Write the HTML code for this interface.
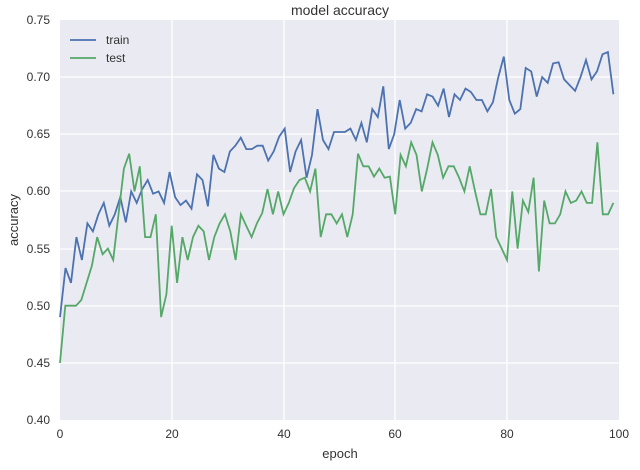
<!DOCTYPE html>
<html><head><meta charset="utf-8"><style>
body{margin:0;background:#fff;font-family:"Liberation Sans",sans-serif;}
</style></head><body>
<svg id="s" width="640" height="465" xmlns="http://www.w3.org/2000/svg" font-family="Liberation Sans, sans-serif">
<rect x="60" y="20" width="559" height="400" fill="#eaeaf2"/>
<g stroke="#fff" stroke-width="1.3">
<line x1="60" x2="619" y1="77" y2="77"/><line x1="60" x2="619" y1="134" y2="134"/>
<line x1="60" x2="619" y1="191" y2="191"/><line x1="60" x2="619" y1="249" y2="249"/>
<line x1="60" x2="619" y1="306" y2="306"/><line x1="60" x2="619" y1="363" y2="363"/>
<line y1="20" y2="420" x1="172" x2="172"/><line y1="20" y2="420" x1="284" x2="284"/>
<line y1="20" y2="420" x1="395" x2="395"/><line y1="20" y2="420" x1="507" x2="507"/>
</g>
<g font-size="12" fill="#333" text-anchor="end">
<text x="50" y="24">0.75</text><text x="50" y="81">0.70</text><text x="50" y="138">0.65</text>
<text x="50" y="195">0.60</text><text x="50" y="253">0.55</text><text x="50" y="310">0.50</text>
<text x="50" y="367">0.45</text><text x="50" y="424">0.40</text>
</g>
<g font-size="12" fill="#333" text-anchor="middle">
<text x="60" y="438">0</text><text x="172" y="438">20</text><text x="284" y="438">40</text>
<text x="395" y="438">60</text><text x="507" y="438">80</text><text x="619" y="438">100</text>
<text x="340" y="458" font-size="13">epoch</text>
<text x="340" y="15" font-size="14">model accuracy</text>
</g>
<text transform="translate(18,220) rotate(-90)" font-size="13" fill="#333" text-anchor="middle">accuracy</text>
<polyline id="tr" fill="none" stroke="#4c72b0" stroke-width="1.8"/>
<polyline id="te" fill="none" stroke="#55a868" stroke-width="1.8"/>
<line x1="70" x2="96" y1="40" y2="40" stroke="#4c72b0" stroke-width="1.8"/>
<line x1="70" x2="96" y1="58" y2="58" stroke="#55a868" stroke-width="1.8"/>
<text x="106" y="44" font-size="12" fill="#333">train</text>
<text x="106" y="62" font-size="12" fill="#333">test</text>
</svg>
<script>
var tr=[0.49,0.533,0.52,0.56,0.54,0.572,0.565,0.58,0.59,0.57,0.58,0.595,0.573,0.60,0.59,0.602,0.61,0.598,0.60,0.59,0.617,0.595,0.588,0.592,0.585,0.615,0.61,0.587,0.632,0.62,0.617,0.635,0.64,0.647,0.637,0.637,0.64,0.64,0.627,0.635,0.648,0.655,0.617,0.635,0.645,0.612,0.632,0.672,0.645,0.637,0.652,0.652,0.652,0.655,0.645,0.66,0.643,0.672,0.665,0.692,0.637,0.65,0.68,0.655,0.66,0.672,0.67,0.685,0.683,0.675,0.69,0.665,0.685,0.68,0.69,0.687,0.68,0.68,0.67,0.678,0.70,0.718,0.68,0.668,0.672,0.708,0.705,0.683,0.70,0.695,0.712,0.713,0.698,0.693,0.688,0.70,0.715,0.698,0.705,0.72,0.722,0.685];
var te=[0.45,0.50,0.50,0.50,0.505,0.52,0.535,0.56,0.545,0.55,0.54,0.58,0.62,0.633,0.60,0.622,0.56,0.56,0.58,0.49,0.51,0.57,0.52,0.56,0.54,0.56,0.57,0.565,0.54,0.56,0.572,0.58,0.565,0.54,0.58,0.57,0.56,0.572,0.581,0.602,0.58,0.60,0.58,0.59,0.603,0.61,0.612,0.60,0.62,0.56,0.58,0.58,0.572,0.58,0.56,0.58,0.633,0.622,0.622,0.613,0.62,0.612,0.613,0.58,0.632,0.622,0.643,0.632,0.60,0.62,0.643,0.632,0.612,0.622,0.622,0.612,0.60,0.622,0.60,0.58,0.58,0.602,0.56,0.55,0.54,0.60,0.55,0.592,0.582,0.612,0.53,0.592,0.572,0.572,0.58,0.60,0.59,0.592,0.60,0.59,0.59,0.643,0.58,0.58,0.59];
function pts(a){var n=a.length,o=[];for(var i=0;i<n;i++){var x=60+i/(n-1)*99*5.59;var y=20+(0.75-a[i])/0.35*400;o.push(x.toFixed(1)+","+y.toFixed(1));}return o.join(" ");}
document.getElementById("tr").setAttribute("points",pts(tr));
document.getElementById("te").setAttribute("points",pts(te));
</script>
</body></html>
